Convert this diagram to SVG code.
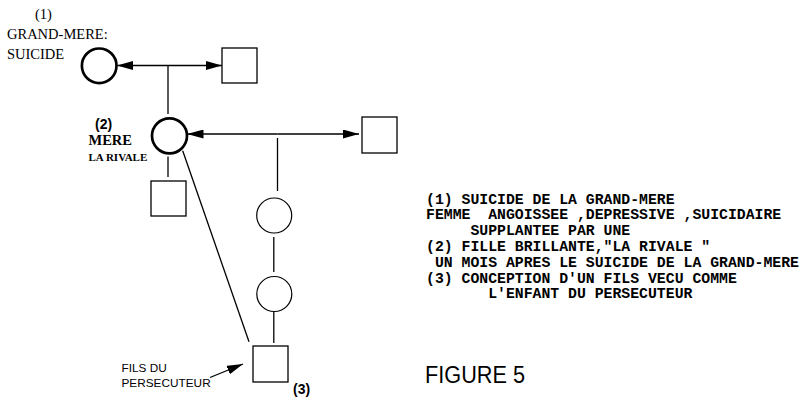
<svg xmlns="http://www.w3.org/2000/svg" width="804" height="400" viewBox="0 0 804 400">
<style>
.bg{fill:#fff}
.thick{fill:none;stroke:#000;stroke-width:2.7}
.thin{fill:none;stroke:#000;stroke-width:1.2}
.ln{stroke:#000;stroke-width:1.3;fill:none}
.serif{font-family:"Liberation Serif","Times New Roman",serif;fill:#000}
.sans{font-family:"Liberation Sans",Arial,sans-serif;fill:#000}
.mono{font-family:"Liberation Mono","Courier New",monospace;font-weight:bold;font-size:14.8px;fill:#000;white-space:pre}
</style>
<defs>
<marker id="arr" markerUnits="userSpaceOnUse" markerWidth="16" markerHeight="9" refX="16" refY="4.5" orient="auto">
<path d="M0,0 L16,4.5 L0,9 z" fill="#000"/>
</marker>
</defs>
<rect class="bg" x="0" y="0" width="804" height="400"/>

<g id="connectors">
<line class="ln" x1="168" y1="65.5" x2="117" y2="65.5" marker-end="url(#arr)"/>
<line class="ln" x1="168" y1="65.5" x2="222" y2="65.5" marker-end="url(#arr)"/>
<line class="ln" x1="168" y1="65.5" x2="168" y2="114"/>
<line class="ln" x1="277.5" y1="134" x2="187.5" y2="134" marker-end="url(#arr)"/>
<line class="ln" x1="277.5" y1="134" x2="359" y2="134" marker-end="url(#arr)"/>
<line class="ln" x1="277.5" y1="138" x2="277.5" y2="191"/>
<line class="ln" x1="168" y1="156.5" x2="168" y2="177"/>
<line class="ln" x1="182.7" y1="150.7" x2="249" y2="341.7"/>
<line class="ln" x1="273.8" y1="237" x2="273.8" y2="272"/>
<line class="ln" x1="273.8" y1="312" x2="273.8" y2="343"/>
<line class="ln" x1="210" y1="377.5" x2="243" y2="364" marker-end="url(#arr)"/>
</g>

<g id="grand-mere">
<circle class="thick" cx="99.2" cy="65.8" r="17.3"/>
<text class="serif" x="35" y="19" font-size="14.5">(1)</text>
<text class="serif" x="7" y="39" font-size="14.5">GRAND-MERE:</text>
<text class="serif" x="7" y="59" font-size="14.5">SUICIDE</text>
</g>

<g id="grand-pere">
<rect class="ln" x="222" y="48" width="35" height="35"/>
</g>

<g id="mere">
<circle class="thick" cx="169.5" cy="135.8" r="17.5"/>
<text class="sans" x="95" y="128.5" font-size="14" font-weight="bold">(2)</text>
<text class="serif" x="88.5" y="144.5" font-size="14.5" font-weight="bold">MERE</text>
<text class="serif" x="88.5" y="161" font-size="11" font-weight="bold">LA RIVALE</text>
</g>

<g id="pere">
<rect class="ln" x="362" y="117" width="35" height="36"/>
</g>

<g id="fils-mere">
<rect class="ln" x="151" y="181" width="35" height="35"/>
</g>

<g id="fille1">
<circle class="thin" cx="274.2" cy="215.5" r="17.5"/>
</g>

<g id="fille2">
<circle class="thin" cx="274.3" cy="294" r="17.5"/>
</g>

<g id="fils3">
<rect class="ln" x="253" y="346" width="35" height="36"/>
<text class="sans" x="293" y="393.5" font-size="14" font-weight="bold">(3)</text>
</g>

<g id="label-fils">
<text class="sans" x="121.5" y="371.5" font-size="11.8">FILS DU</text>
<text class="sans" x="121.5" y="386.5" font-size="11.8">PERSECUTEUR</text>
</g>

<g id="legende">
<text class="mono" x="426" y="203.5">(1) SUICIDE DE LA GRAND-MERE</text>
<text class="mono" x="426" y="219.3">FEMME  ANGOISSEE ,DEPRESSIVE ,SUICIDAIRE</text>
<text class="mono" x="426" y="235.1">     SUPPLANTEE PAR UNE</text>
<text class="mono" x="426" y="250.9">(2) FILLE BRILLANTE,"LA RIVALE "</text>
<text class="mono" x="426" y="266.7"> UN MOIS APRES LE SUICIDE DE LA GRAND-MERE</text>
<text class="mono" x="426" y="282.5">(3) CONCEPTION D'UN FILS VECU COMME</text>
<text class="mono" x="426" y="298.3">       L'ENFANT DU PERSECUTEUR</text>
</g>

<g id="titre">
<text class="sans" x="425" y="382.5" font-size="23" textLength="100" lengthAdjust="spacingAndGlyphs">FIGURE 5</text>
</g>
</svg>
